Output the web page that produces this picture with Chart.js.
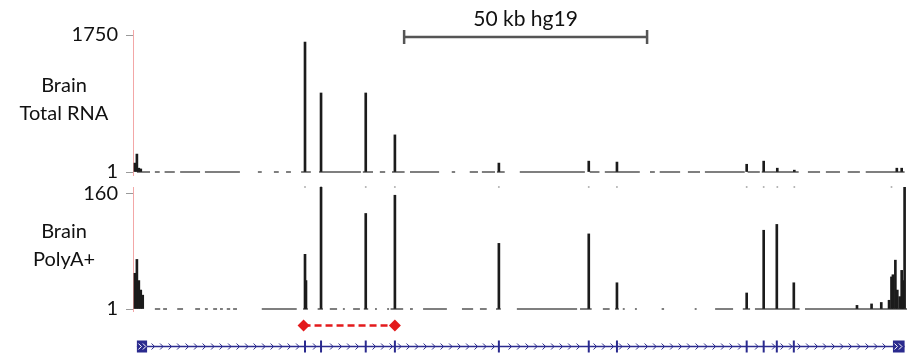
<!DOCTYPE html>
<html lang="en">
<head>
<meta charset="utf-8">
<script src="https://cdn.jsdelivr.net/npm/chart.js@4.4.1/dist/chart.umd.min.js"></script>
<style>
  html, body { margin: 0; padding: 0; background: #fff; }
  #wrap { position: relative; width: 911px; height: 357px; }
  .trk { position: absolute; left: 0; width: 911px; }
</style>
</head>
<body>
<div id="wrap">
  <div class="trk" style="top:0;height:182px"><canvas id="total"></canvas></div>
  <div class="trk" style="top:182px;height:135px"><canvas id="polya"></canvas></div>
  <div class="trk" style="top:315px;height:42px"><canvas id="gene"></canvas></div>
</div>
<script>
// genomic window shown, in kb from the left edge
const windowKb = [0, 159.5];

// Brain Total RNA coverage peaks (kb, read depth)
const totalPos = [0.4, 0.8, 1.2, 1.6, 35.4, 38.7, 47.9, 53.9, 75.3, 93.8, 99.6, 126.3, 129.8, 132.6, 136.1, 157.2, 158.2];
const totalVal = [115, 230, 50, 40, 1660, 1010, 1010, 475, 115, 140, 128, 100, 140, 50, 25, 50, 50];
const totalTicks = [1, 1750];
const totalBase = [[0.8, 3.5], [4.5, 5.5], [6.5, 8.6], [9.7, 13.8], [14.8, 22], [25.7, 26.5], [29, 30], [31.5, 32.5],
  [34.6, 36.6], [38.3, 46.9], [47.3, 49.4], [50.8, 51.9], [53.3, 55.9], [57, 63], [65.6, 66.3], [69.3, 71],
  [71.8, 74.5], [74.9, 76.5], [79.6, 93], [94, 96], [97.1, 104.3], [106.4, 107.4], [108.4, 112.6], [114.2, 116.7],
  [117.7, 125.9], [126.5, 129], [129.4, 137], [138.9, 141.4], [142.6, 145.5], [147.1, 149.6], [150.8, 158.8]];

// Brain PolyA+ coverage peaks
const polyPos = [0.4, 0.8, 1.2, 1.6, 2.0, 35.4, 35.6, 38.7, 47.9, 53.9, 75.3, 93.8, 99.6, 126.3, 129.8, 132.5, 136.0,
  149.0, 152.0, 154.0, 155.6, 156.1, 156.4, 156.9, 157.3, 157.8, 158.2, 158.4, 158.8];
const polyVal = [50, 69, 40, 27, 20, 76, 40, 175, 132, 157, 91, 104, 37, 23, 109, 117, 37,
  6, 8, 10, 13, 45, 48, 68, 27, 18, 54, 40, 175];
const polyTicks = [1, 160];
const polyBase = [[4.5, 5.6], [6.2, 7.0], [9.1, 10.3], [12.8, 13.8], [14.8, 15.4], [16.5, 17.3], [17.9, 18.5],
  [19.3, 20], [20.6, 21.4], [26.5, 33.7], [35, 36], [38, 39.1], [40.5, 42], [43.2, 43.6], [45.3, 46.7], [47.5, 48.4],
  [49.8, 50.2], [52.3, 52.7], [53, 55.6], [57, 57.6], [59.7, 64.6], [67.7, 70], [71.4, 72.8], [74.7, 75.7],
  [79, 91.4], [92, 94.4], [96.7, 98.1], [99.2, 100], [100.8, 101.2], [103.3, 103.7], [108.8, 109.3], [115.6, 116],
  [119.8, 123.5], [125.5, 127], [128, 137.2], [138.3, 149], [149, 159.3]];
const overflowDots = [35.4, 38.7, 47.9, 53.9, 75.3, 93.8, 99.6, 126.3, 129.8, 132.6, 136.1, 156.1];

// gene model and annotations
const geneSpan = [0.8, 158.8];
const geneExons = [35.4, 38.7, 47.9, 53.9, 75.3, 93.8, 99.6, 126.3, 129.8, 132.5, 136.0];
const geneEnds = [[0.8, 2.9], [156.4, 158.8]];
const linkSpan = [35.1, 53.9];
const scaleBar = [55.8, 105.8];
const scaleLabel = '50 kb hg19';
const trackNames = [['Brain', 'Total RNA'], ['Brain', 'PolyA+']];

const FONT = 'Lato, "Open Sans", sans-serif';
const BLUE = '#2a2a8e';

const segPoints = segs => segs.flatMap(([a, b]) => [{x: a, y: 1}, {x: b, y: 1}, {x: b, y: null}]);

const trackLabel = names => ({
    id: 'trackLabel',
    afterDraw(chart) {
        const {ctx, chartArea} = chart;
        const mid = (chartArea.top + chartArea.bottom) / 2;
        ctx.save();
        ctx.fillStyle = '#111';
        ctx.font = '20px ' + FONT;
        ctx.textAlign = 'center';
        ctx.textBaseline = 'middle';
        ctx.fillText(names[0], 64, mid - 17);
        ctx.fillText(names[1], 64, mid + 11);
        ctx.restore();
    }
});

const scaleBarPlugin = {
    id: 'scaleBar',
    afterDraw(chart) {
        const {ctx, scales: {x}} = chart;
        const x0 = x.getPixelForValue(scaleBar[0]);
        const x1 = x.getPixelForValue(scaleBar[1]);
        ctx.save();
        ctx.strokeStyle = '#555';
        ctx.lineWidth = 2.5;
        ctx.beginPath();
        ctx.moveTo(x0, 37); ctx.lineTo(x1, 37);
        ctx.moveTo(x0, 30); ctx.lineTo(x0, 44);
        ctx.moveTo(x1, 30); ctx.lineTo(x1, 44);
        ctx.stroke();
        ctx.fillStyle = '#111';
        ctx.font = '21px ' + FONT;
        ctx.textAlign = 'center';
        ctx.textBaseline = 'middle';
        ctx.fillText(scaleLabel, (x0 + x1) / 2, 19);
        ctx.restore();
    }
};

const crearTrack = (id, pos, val, ticks, yMin, yMax, base, names, pad, extra, plugins) => {
    return new Chart(document.getElementById(id), {
        type: 'bar',
        data: {
            datasets: [
                {
                    type: 'bar',
                    data: pos.map((x, i) => ({x: x, y: val[i]})),
                    backgroundColor: '#1b1b1b',
                    barThickness: 2,
                    base: 1,
                    order: 1
                },
                {
                    type: 'line',
                    data: segPoints(base),
                    borderColor: '#555',
                    borderWidth: 1.4,
                    pointRadius: 0,
                    spanGaps: false,
                    order: 2
                }
            ].concat(extra)
        },
        options: {
            animation: false,
            responsive: true,
            maintainAspectRatio: false,
            layout: {autoPadding: false, padding: {top: pad[0], bottom: pad[1], left: 0, right: 3}},
            plugins: {legend: {display: false}, tooltip: {enabled: false}},
            scales: {
                x: {type: 'linear', min: windowKb[0], max: windowKb[1], offset: false, display: false},
                y: {
                    min: yMin,
                    max: yMax,
                    afterFit: s => { s.width = 133; s.paddingTop = 0; s.paddingBottom = 0; },
                    afterBuildTicks: s => { s.ticks = ticks.map(v => ({value: v})); },
                    grid: {drawOnChartArea: false, tickLength: 7, tickColor: '#9a9a9a', tickWidth: 1},
                    border: {color: '#f3a7a7', width: 1},
                    ticks: {padding: 8, color: '#111', font: {family: FONT, size: 20}, callback: v => v}
                }
            }
        },
        plugins: [trackLabel(names)].concat(plugins)
    });
};

crearTrack('total', totalPos, totalVal, totalTicks, -37, 1814, totalBase, trackNames[0], [30, 7], [], [scaleBarPlugin]);

const polyMax = 168.3;
crearTrack('polya', polyPos, polyVal, polyTicks, -1.7, polyMax, polyBase, trackNames[1], [5, 6], [
    {
        type: 'scatter',
        data: overflowDots.map(x => ({x: x, y: polyMax})),
        pointRadius: 1,
        backgroundColor: '#b0b0b0',
        borderWidth: 0,
        clip: false,
        order: 3
    }
], []);

const chevron = (ctx, px, cy, color) => {
    ctx.strokeStyle = color;
    ctx.beginPath();
    ctx.moveTo(px - 1.5, cy - 3);
    ctx.lineTo(px + 1.5, cy);
    ctx.lineTo(px - 1.5, cy + 3);
    ctx.stroke();
};

const geneModel = {
    id: 'geneModel',
    afterDatasetsDraw(chart) {
        const {ctx, scales: {x, y}} = chart;
        const cy = y.getPixelForValue(1);
        const exPx = geneExons.map(v => x.getPixelForValue(v));
        const g0 = x.getPixelForValue(geneEnds[0][1]);
        const g1 = x.getPixelForValue(geneEnds[1][0]);
        ctx.save();
        ctx.lineWidth = 1;
        for (let px = g0 + 6; px < g1 - 3; px += 8.5) {
            if (exPx.some(e => Math.abs(e - px) < 3)) continue;
            chevron(ctx, px, cy, BLUE);
        }
        geneEnds.forEach(([a, b]) => {
            const xa = x.getPixelForValue(a);
            const xb = x.getPixelForValue(b);
            ctx.fillStyle = BLUE;
            ctx.fillRect(xa, cy - 6, xb - xa, 12);
            for (let px = xa + 3; px < xb - 1; px += 4.5) chevron(ctx, px, cy, '#fff');
        });
        ctx.restore();
    }
};

new Chart(document.getElementById('gene'), {
    type: 'line',
    data: {
        datasets: [
            {
                data: linkSpan.map(x => ({x: x, y: 'link'})),
                borderColor: '#e31a1c',
                borderWidth: 2.5,
                borderDash: [7, 4],
                pointStyle: 'rectRot',
                pointRadius: 6,
                pointBackgroundColor: '#e31a1c',
                pointBorderColor: '#e31a1c',
                pointBorderWidth: 0
            },
            {
                data: geneSpan.map(x => ({x: x, y: 'gene'})),
                borderColor: BLUE,
                borderWidth: 1.5,
                pointRadius: 0
            },
            {
                type: 'scatter',
                data: geneExons.map(x => ({x: x, y: 'gene'})),
                pointStyle: 'line',
                rotation: 90,
                pointRadius: 6,
                borderColor: BLUE,
                borderWidth: 2
            }
        ]
    },
    options: {
        animation: false,
        responsive: true,
        maintainAspectRatio: false,
        layout: {autoPadding: false, padding: {top: 0, bottom: 0, left: 133, right: 3}},
        plugins: {legend: {display: false}, tooltip: {enabled: false}},
        scales: {
            x: {type: 'linear', min: windowKb[0], max: windowKb[1], display: false},
            y: {type: 'category', labels: ['link', 'gene'], offset: true, display: false}
        }
    },
    plugins: [geneModel]
});
</script>
</body>
</html>
